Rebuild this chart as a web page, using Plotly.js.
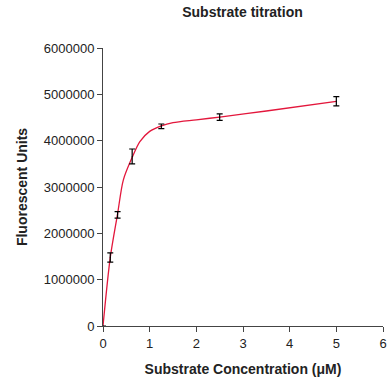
<!DOCTYPE html>
<html><head><meta charset="utf-8">
<script src="https://cdn.plot.ly/plotly-3.0.1.min.js"></script>
<style>html,body{margin:0;padding:0;background:#fff}#chart{width:388px;height:381px}</style>
</head><body><div id="chart"></div>
<script>
// Measured points
const concentration = [0, 0.156, 0.3125, 0.625, 1.25, 2.5, 5];
const fluorescence = [0, 1480000, 2400000, 3660000, 4310000, 4510000, 4850000];
const errors = [0, 100000, 70000, 160000, 50000, 70000, 100000];
// Fitted curve
const fitX = [0, 0.156, 0.3125, 0.435, 0.625, 0.79, 1.0, 1.25, 1.5, 2.0, 2.5, 3.5, 5];
const fitY = [0, 1480000, 2420000, 3150000, 3640000, 3980000, 4200000, 4320000, 4390000, 4450000, 4510000, 4640000, 4850000];
const xTicks = [0, 1, 2, 3, 4, 5, 6];
const yTicks = [0, 1000000, 2000000, 3000000, 4000000, 5000000, 6000000];

const fontFam = 'Liberation Sans, Arial, sans-serif';
const boldFam = 'Liberation Sans Narrow, Arial Narrow, Liberation Sans, sans-serif';

const traces = [
  {x: fitX, y: fitY, mode: 'lines', line: {color: '#e3173c', width: 1.3, shape: 'spline', smoothing: 0.8}, hoverinfo: 'skip'},
  {x: concentration, y: fluorescence, mode: 'markers', marker: {size: 1, color: '#000'},
   error_y: {type: 'data', array: errors, visible: true, color: '#000', thickness: 1.2, width: 3}}
];

const axisCommon = {
  showgrid: false, zeroline: false, showline: true, linecolor: '#444', linewidth: 1,
  ticks: 'outside', ticklen: 5, tickcolor: '#444', tickwidth: 1,
  tickfont: {family: fontFam, size: 13, color: '#222'}
};

const layout = {
  width: 388, height: 381,
  margin: {l: 103, r: 5, t: 48, b: 55},
  paper_bgcolor: '#fff', plot_bgcolor: '#fff',
  showlegend: false,
  title: {text: '<b>Substrate titration</b>', font: {family: boldFam, size: 14, color: '#222'}, x: 0.625, xanchor: 'center', y: 0.967, yanchor: 'middle'},
  xaxis: Object.assign({}, axisCommon, {range: [0, 6], tickvals: xTicks, ticktext: xTicks.map(String),
    title: {text: '<b>Substrate Concentration (μM)</b>', font: {family: boldFam, size: 14, color: '#222'}, standoff: 14}}),
  yaxis: Object.assign({}, axisCommon, {range: [0, 6000000], tickvals: yTicks, ticktext: yTicks.map(String),
    title: {text: '<b>Fluorescent Units</b>', font: {family: boldFam, size: 14, color: '#222'}, standoff: 12}})
};

Plotly.newPlot('chart', traces, layout, {staticPlot: true, displayModeBar: false});
</script></body></html>
